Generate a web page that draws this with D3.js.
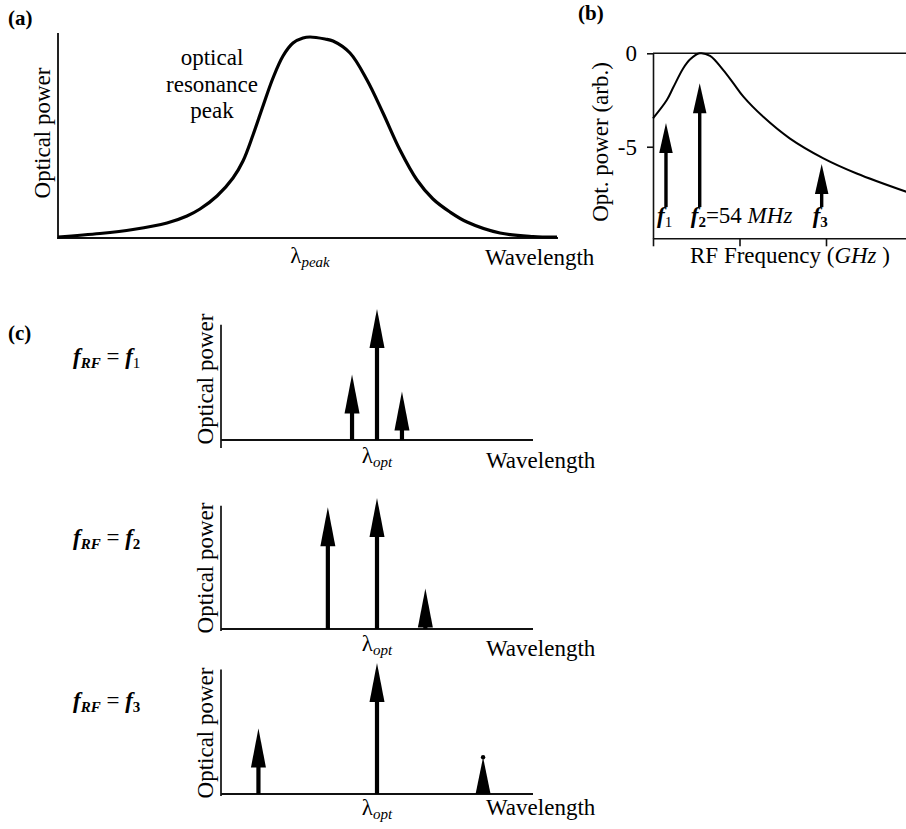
<!DOCTYPE html>
<html>
<head>
<meta charset="utf-8">
<script src="https://cdn.jsdelivr.net/npm/d3@7"></script>
<style>
  html, body { margin: 0; padding: 0; background: #fff; }
  svg { display: block; font-family: "Liberation Serif", "Times New Roman", serif; }
  .axis path, .axis line { stroke: #111; }
</style>
</head>
<body>
<svg id="fig" width="906" height="829"></svg>
<script>
// ---------- data ----------
// (a) optical resonance peak, sampled (relative wavelength 0..100, normalised power)
const resWavelength = [0, 8.4, 15, 21.8, 25.8, 28.4, 31.8, 35, 37, 39, 41, 43, 45, 47, 49, 50.4,
                       53.4, 55, 58.4, 61.8, 65, 68.4, 71.8, 75, 78.4, 81.8, 88.4, 95, 99.8];
const resPower      = [0, 0.0175, 0.0375, 0.07, 0.105, 0.14, 0.205, 0.295, 0.38, 0.51, 0.655, 0.795, 0.905, 0.97, 0.995, 1.0,
                       0.99, 0.98, 0.92, 0.785, 0.62, 0.435, 0.285, 0.19, 0.125, 0.075, 0.02, 0.0025, 0];

// (b) optical power vs RF modulation frequency
const rfFreqGHz = [0, 0.016, 0.0235, 0.035, 0.043, 0.054, 0.066, 0.081, 0.093, 0.1045, 0.1275, 0.158, 0.197, 0.2355, 0.293];
const rfPowerDb = [-3.48, -2.5, -1.82, -0.8, -0.32, 0, -0.14, -0.89, -1.61, -2.32, -3.4, -4.55, -5.62, -6.43, -7.41];
const rfTicksY = [0, -5];
const rfTickLabelsY = ["0", "-5"];
const rfTicksX = [0, 0.1, 0.2];
const markerNames = ["1", "2", "3"];
const markerFreqGHz = [0.015, 0.054, 0.195];
const markerTipDb = [-3.73, -1.6, -5.93];
const markerFootDb = -8.23;

// (c) optical spectra: carrier at λopt plus two sidebands
const caseNames = ["1", "2", "3"];
const lowerOffset = [-0.16, -0.315, -0.76];
const upperOffset = [0.16, 0.31, 0.68];
const carrierPower = [1, 1, 1];
const lowerPower = [0.5, 0.93, 0.5];
const upperPower = [0.37, 0.31, 0.28];

// ---------- drawing ----------
const svg = d3.select("#fig");
const FS = 23;

function arrow(g, x, yFoot, yTip, headW, headH, shaftW) {
  const h = Math.min(headH, yFoot - yTip);
  const headBase = yTip + h;
  if (yFoot > headBase) {
    g.append("rect").attr("x", x - shaftW / 2).attr("y", headBase - 1)
      .attr("width", shaftW).attr("height", yFoot - headBase + 1).attr("fill", "#000");
  }
  g.append("path")
    .attr("d", `M${x},${yTip}L${x + headW / 2},${headBase}L${x - headW / 2},${headBase}Z`)
    .attr("fill", "#000");
  if (h < headH) {
    g.append("circle").attr("cx", x).attr("cy", yTip).attr("r", 2.2).attr("fill", "#000");
  }
}

function panelLabel(x, y, t) {
  svg.append("text").attr("x", x).attr("y", y).attr("font-size", 21)
    .attr("font-weight", "bold").text(t);
}

// ===== (a) =====
panelLabel(8, 25, "(a)");
const xA = d3.scaleLinear([0, 100], [58, 558]);
const yA = d3.scaleLinear([0, 1], [237, 37]);
const gA = svg.append("g");
gA.append("line").attr("x1", 58).attr("x2", 58).attr("y1", 33).attr("y2", yA(0) + 1)
  .attr("stroke", "#222").attr("stroke-width", 2);
gA.append("line").attr("x1", 57).attr("x2", xA(100)).attr("y1", yA(0) + 1).attr("y2", yA(0) + 1)
  .attr("stroke", "#111").attr("stroke-width", 2);
const resPts = resWavelength.map((w, i) => [w, resPower[i]]);
gA.append("path").datum(resPts)
  .attr("d", d3.line().x(d => xA(d[0])).y(d => yA(d[1])).curve(d3.curveCatmullRom.alpha(0.5)))
  .attr("fill", "none").attr("stroke", "#000").attr("stroke-width", 3.2);
gA.append("text").attr("transform", "translate(50,133) rotate(-90)")
  .attr("text-anchor", "middle").attr("font-size", FS).text("Optical power");
["optical", "resonance", "peak"].forEach((t, i) => {
  gA.append("text").attr("x", 212).attr("y", 65 + i * 26.5).attr("text-anchor", "middle")
    .attr("font-size", FS).text(t);
});
const lp = gA.append("text").attr("x", xA(50.4)).attr("y", 263).attr("text-anchor", "middle").attr("font-size", FS);
lp.append("tspan").text("λ");
lp.append("tspan").attr("font-style", "italic").attr("font-size", 15).attr("dy", 4).text("peak");
gA.append("text").attr("x", 485).attr("y", 265).attr("font-size", FS).text("Wavelength");

// ===== (b) =====
panelLabel(578, 20, "(b)");
const xB = d3.scaleLinear([0, 0.3], [653, 912.5]);
const yB = d3.scaleLinear([-9.9, 0], [238.3, 53.3]);
const gB = svg.append("g");
const axL = gB.append("g").attr("class", "axis").attr("transform", `translate(${xB(0)},0)`)
  .call(d3.axisLeft(yB).tickValues(rfTicksY).tickSize(6).tickSizeOuter(0).tickPadding(10)
    .tickFormat((d, i) => rfTickLabelsY[i]));
const axB = gB.append("g").attr("class", "axis").attr("transform", `translate(0,${yB(-9.9)})`)
  .call(d3.axisBottom(xB).tickValues(rfTicksX).tickSize(8).tickSizeOuter(0).tickFormat(""));
[axL, axB].forEach(a => {
  a.selectAll("path, line").attr("stroke-width", 1.6);
  a.selectAll("text").attr("font-family", "Liberation Serif, serif").attr("font-size", FS).attr("fill", "#000");
});
gB.append("line").attr("x1", xB(0)).attr("x2", 906).attr("y1", yB(0)).attr("y2", yB(0))
  .attr("stroke", "#111").attr("stroke-width", 1.6);
const rfPts = rfFreqGHz.map((f, i) => [f, rfPowerDb[i]]);
gB.append("path").datum(rfPts)
  .attr("d", d3.line().x(d => xB(d[0])).y(d => yB(d[1])).curve(d3.curveCatmullRom.alpha(0.5)))
  .attr("fill", "none").attr("stroke", "#000").attr("stroke-width", 2);
markerFreqGHz.forEach((f, i) => {
  arrow(gB, xB(f), yB(markerFootDb), yB(markerTipDb[i]), 13.5, 30, 3.4);
  const t = gB.append("text").attr("x", xB(f) - 9).attr("y", 223).attr("font-size", FS);
  t.append("tspan").attr("font-weight", "bold").attr("font-style", "italic").text("f");
  t.append("tspan").attr("font-size", 15).attr("dy", 4)
    .attr("font-weight", i === 0 ? "normal" : "bold").text(markerNames[i]);
  if (i === 1) {
    t.append("tspan").attr("dy", -4).text("=54 ");
    t.append("tspan").attr("font-style", "italic").text("MHz");
  }
});
gB.append("text").attr("transform", "translate(608,142) rotate(-90)")
  .attr("text-anchor", "middle").attr("font-size", FS).text("Opt. power (arb.)");
const rfl = gB.append("text").attr("x", 690).attr("y", 263).attr("font-size", FS);
rfl.append("tspan").text("RF Frequency  (");
rfl.append("tspan").attr("font-style", "italic").text("GHz");
rfl.append("tspan").text(" )");

// ===== (c) =====
panelLabel(8, 340, "(c)");
const xC = d3.scaleLinear([-1, 1], [221, 533]);
const cBase = [440, 629, 794];
const cAxisTop = [0.88, 0.94, 0.95];
const cAxisBelow = [8, 2, 2];
const cLabelY = [364, 545, 708];
const cLambdaY = [463, 651, 815];
const cWaveY = [468, 656, 815];
caseNames.forEach((name, k) => {
  const g = svg.append("g");
  const yC = d3.scaleLinear([0, 1], [cBase[k], cBase[k] - 131]);
  g.append("line").attr("x1", xC(-1)).attr("x2", xC(-1))
    .attr("y1", yC(cAxisTop[k])).attr("y2", cBase[k] + cAxisBelow[k])
    .attr("stroke", "#333").attr("stroke-width", 2);
  g.append("line").attr("x1", xC(-1)).attr("x2", xC(1)).attr("y1", cBase[k]).attr("y2", cBase[k])
    .attr("stroke", "#111").attr("stroke-width", 2);
  const lines = [[lowerOffset[k], lowerPower[k]], [0, carrierPower[k]], [upperOffset[k], upperPower[k]]];
  lines.forEach(([o, p]) => arrow(g, xC(o), yC(0), yC(p), 15, 39, 4.2));
  g.append("text").attr("transform", `translate(213,${cBase[k] - 61}) rotate(-90)`)
    .attr("text-anchor", "middle").attr("font-size", FS).text("Optical power");
  const lo = g.append("text").attr("x", xC(0)).attr("y", cLambdaY[k]).attr("text-anchor", "middle").attr("font-size", FS);
  lo.append("tspan").text("λ");
  lo.append("tspan").attr("font-style", "italic").attr("font-size", 15).attr("dy", 4).text("opt");
  g.append("text").attr("x", 486).attr("y", cWaveY[k]).attr("font-size", FS).text("Wavelength");
  const lab = g.append("text").attr("x", 73).attr("y", cLabelY[k]).attr("font-size", FS);
  lab.append("tspan").attr("font-weight", "bold").attr("font-style", "italic").text("f");
  lab.append("tspan").attr("font-weight", "bold").attr("font-style", "italic").attr("font-size", 15).attr("dy", 4).text("RF");
  lab.append("tspan").attr("dy", -4).text(" = ");
  lab.append("tspan").attr("font-weight", "bold").attr("font-style", "italic").text("f");
  lab.append("tspan").attr("font-size", 15).attr("dy", 4)
    .attr("font-weight", k === 0 ? "normal" : "bold").text(name);
});
</script>
</body>
</html>
